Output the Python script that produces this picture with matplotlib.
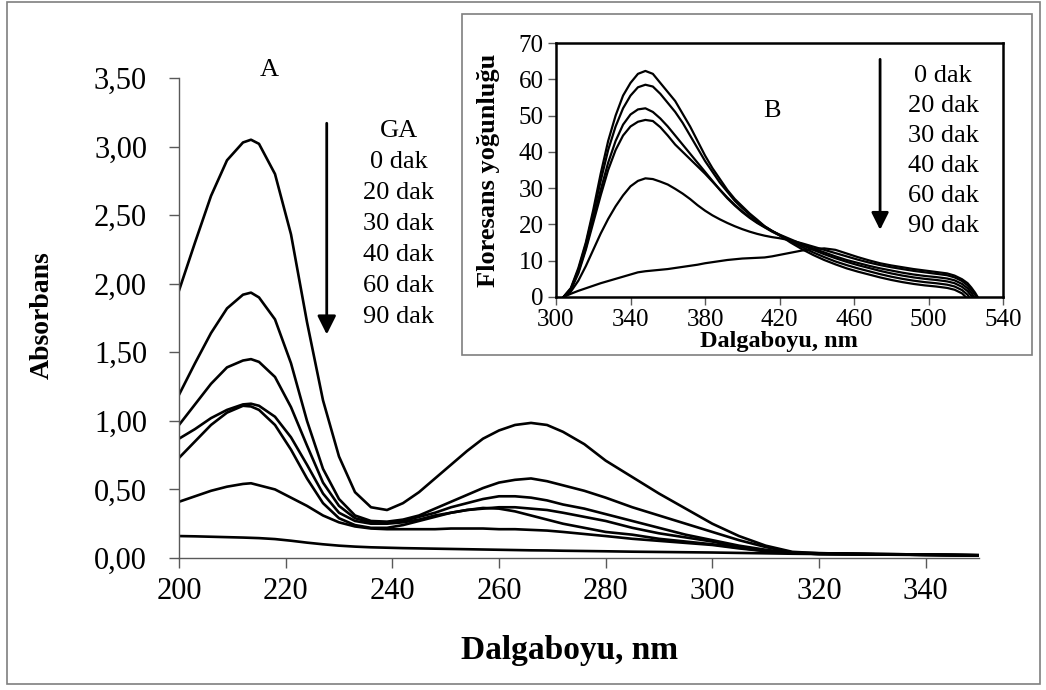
import matplotlib
matplotlib.use("Agg")
import matplotlib.pyplot as plt
from matplotlib.patches import Rectangle

plt.rcParams['font.family'] = ['Liberation Serif', 'DejaVu Serif']

# --- main chart (A): UV absorbance ---
wl = [200, 203, 206, 209, 212, 213.5, 215, 218, 221, 224, 227, 230, 233, 236, 239, 242,
      245, 248, 251, 254, 257, 260, 263, 266, 269, 272, 276, 280, 285, 290, 295,
      300, 305, 310, 315, 320, 330, 340, 350]
abs_ga = [1.95, 2.30, 2.64, 2.90, 3.03, 3.05, 3.02, 2.80, 2.36, 1.72, 1.15, 0.74, 0.48, 0.37, 0.35, 0.40,
          0.48, 0.58, 0.68, 0.78, 0.87, 0.93, 0.97, 0.985, 0.97, 0.92, 0.83, 0.71, 0.59, 0.47, 0.36,
          0.25, 0.16, 0.09, 0.045, 0.035, 0.03, 0.025, 0.02]
abs_0 = [1.19, 1.42, 1.64, 1.82, 1.92, 1.935, 1.90, 1.74, 1.42, 1.00, 0.65, 0.43, 0.31, 0.27, 0.265, 0.28,
         0.31, 0.36, 0.41, 0.46, 0.51, 0.55, 0.57, 0.58, 0.56, 0.53, 0.49, 0.44, 0.37, 0.31, 0.25,
         0.19, 0.13, 0.08, 0.04, 0.035, 0.03, 0.025, 0.02]
abs_20 = [0.97, 1.12, 1.27, 1.39, 1.44, 1.45, 1.43, 1.32, 1.10, 0.82, 0.55, 0.38, 0.29, 0.26, 0.26, 0.27,
          0.30, 0.33, 0.37, 0.40, 0.43, 0.45, 0.45, 0.44, 0.42, 0.39, 0.36, 0.32, 0.27, 0.22, 0.17,
          0.13, 0.09, 0.06, 0.035, 0.03, 0.027, 0.023, 0.02]
abs_30 = [0.87, 0.94, 1.02, 1.08, 1.12, 1.125, 1.11, 1.03, 0.88, 0.68, 0.47, 0.33, 0.27, 0.25, 0.25, 0.26,
          0.28, 0.31, 0.33, 0.35, 0.36, 0.37, 0.37, 0.36, 0.35, 0.33, 0.30, 0.27, 0.22, 0.18, 0.15,
          0.12, 0.08, 0.055, 0.035, 0.03, 0.027, 0.023, 0.02]
abs_40 = [0.73, 0.85, 0.97, 1.06, 1.11, 1.105, 1.08, 0.97, 0.79, 0.58, 0.40, 0.29, 0.24, 0.22, 0.22, 0.24,
          0.27, 0.30, 0.33, 0.35, 0.365, 0.36, 0.34, 0.31, 0.28, 0.25, 0.22, 0.19, 0.17, 0.14, 0.12,
          0.10, 0.075, 0.05, 0.035, 0.03, 0.027, 0.023, 0.02]
abs_60 = [0.41, 0.45, 0.49, 0.52, 0.54, 0.545, 0.53, 0.50, 0.44, 0.38, 0.31, 0.26, 0.23, 0.215, 0.21, 0.21,
          0.21, 0.21, 0.215, 0.215, 0.215, 0.21, 0.21, 0.205, 0.20, 0.19, 0.175, 0.16, 0.14, 0.125, 0.11,
          0.095, 0.07, 0.05, 0.035, 0.03, 0.027, 0.023, 0.02]
abs_90 = [0.16, 0.158, 0.155, 0.152, 0.149, 0.147, 0.145, 0.138, 0.126, 0.112, 0.10, 0.09, 0.083, 0.078, 0.075, 0.072,
          0.07, 0.068, 0.066, 0.064, 0.062, 0.06, 0.058, 0.056, 0.055, 0.053, 0.051, 0.049, 0.046, 0.044, 0.042,
          0.04, 0.037, 0.034, 0.031, 0.029, 0.025, 0.022, 0.018]
main_labels = ['GA', '0 dak', '20 dak', '30 dak', '40 dak', '60 dak', '90 dak']
main_xticks = [200, 220, 240, 260, 280, 300, 320, 340]
main_yticks = [0, 0.5, 1.0, 1.5, 2.0, 2.5, 3.0, 3.5]
main_yticklabels = ['0,00', '0,50', '1,00', '1,50', '2,00', '2,50', '3,00', '3,50']

# --- inset (B): fluorescence ---
fl_wl = [304, 308, 312, 316, 320, 324, 328, 332, 336, 340, 344, 348, 352, 356, 360,
         364, 368, 372, 376, 380, 384, 388, 392, 396, 400, 404, 408, 412, 416, 420,
         426, 432, 438, 444, 450, 456, 462, 468, 474, 480, 486, 492, 498, 504, 510,
         514, 518, 521, 523, 525, 527]
fl_0 = [0, 2.5, 8, 15, 24, 34, 43, 50, 55.5, 59, 61.5, 62.3, 61.5, 59, 56.5,
        54, 50.5, 47, 43, 39, 35.5, 32.5, 29.5, 27, 25, 23, 21.3, 19.5, 18.2, 17,
        15, 13.2, 11.6, 10.2, 9, 7.9, 7, 6.2, 5.4, 4.7, 4.1, 3.6, 3.2, 2.9, 2.5,
        2, 1, -0.5, -2, -4, -6]
fl_20 = [0, 2.3, 7.5, 14.5, 23, 32, 40.5, 47, 52, 55.5, 57.8, 58.5, 58, 56, 53.5,
         51, 48, 44.5, 41, 37.5, 34.5, 31.5, 29, 26.5, 24.5, 22.7, 21, 19.5, 18.2, 17.1,
         15.4, 13.8, 12.3, 11, 9.8, 8.8, 7.9, 7.1, 6.3, 5.6, 5, 4.5, 4.1, 3.8, 3.4,
         2.9, 1.9, 0.6, -1, -3, -5]
fl_30 = [0, 2.2, 7, 13.5, 21.5, 29.5, 37, 43, 47.5, 50.3, 51.7, 52, 51, 49.2, 47,
         44.5, 42, 39.5, 37, 34.5, 32, 29.5, 27.2, 25.2, 23.4, 21.8, 20.4, 19.2, 18, 17,
         15.6, 14.3, 13, 11.8, 10.7, 9.7, 8.8, 8, 7.2, 6.5, 5.9, 5.4, 5, 4.7, 4.3,
         3.8, 2.8, 1.6, 0.3, -1.5, -3.5]
fl_40 = [0, 2, 6.5, 13, 20.5, 28, 35, 40.5, 44.5, 47, 48.3, 48.8, 48.5, 46.8, 44.5,
         42, 40, 38, 36, 34, 31.8, 29.6, 27.4, 25.4, 23.6, 22, 20.6, 19.3, 18.2, 17.2,
         15.9, 14.6, 13.4, 12.3, 11.2, 10.2, 9.4, 8.6, 7.9, 7.3, 6.7, 6.2, 5.8, 5.5, 5.1,
         4.6, 3.6, 2.4, 1.2, -0.5, -2.5]
fl_60 = [0, 1.5, 4.5, 8.5, 13, 17.5, 21.5, 25, 28, 30.5, 32, 32.7, 32.5, 31.8, 31,
         29.8, 28.5, 27, 25.3, 23.8, 22.5, 21.4, 20.4, 19.5, 18.7, 18, 17.4, 16.9, 16.5, 16.2,
         15.6, 14.8, 13.9, 13, 12.1, 11.2, 10.3, 9.5, 8.8, 8.2, 7.7, 7.2, 6.8, 6.4, 6,
         5.4, 4.4, 3.2, 2, 0.6, -1.5]
fl_90 = [0, 0.9, 1.7, 2.4, 3.1, 3.8, 4.4, 5, 5.6, 6.2, 6.8, 7.1, 7.3, 7.5, 7.7,
         8, 8.3, 8.6, 8.9, 9.3, 9.6, 9.9, 10.2, 10.4, 10.6, 10.7, 10.8, 10.9, 11.2, 11.6,
         12.2, 12.8, 13.2, 13.4, 13, 12, 11, 10.1, 9.3, 8.7, 8.2, 7.7, 7.3, 6.9, 6.5,
         5.9, 4.9, 3.8, 2.6, 1.2, -0.5]
inset_labels = ['0 dak', '20 dak', '30 dak', '40 dak', '60 dak', '90 dak']
inset_xticks = [300, 340, 380, 420, 460, 500, 540]
inset_yticks = [0, 10, 20, 30, 40, 50, 60, 70]

W, H = 1046, 690
fig = plt.figure(figsize=(W / 100, H / 100), dpi=100)

# outer frame of the whole picture
fig.add_artist(Rectangle((7 / W, 6 / H), 1033 / W, 682 / H, transform=fig.transFigure,
                         fill=False, edgecolor='#7f7f7f', linewidth=1.2))

# main axes
ax = fig.add_axes([179 / W, 132 / H, 800 / W, 480 / H])
for y in [abs_ga, abs_0, abs_20, abs_30, abs_40, abs_60, abs_90]:
    ax.plot(wl, y, color='black', linewidth=1.9, solid_joinstyle='round')
ax.set_xlim(200, 350)
ax.set_ylim(0, 3.5)
ax.set_xticks(main_xticks)
ax.set_yticks(main_yticks)
ax.set_yticklabels(main_yticklabels)
for side in ['top', 'right']:
    ax.spines[side].set_visible(False)
for side in ['left', 'bottom']:
    ax.spines[side].set_color('#595959')
    ax.spines[side].set_linewidth(1.0)
ax.tick_params(direction='out', length=7, width=1, color='#595959', labelsize=22)
ax.tick_params(axis='y', pad=16)
ax.tick_params(axis='x', pad=7)

fig.text(570 / W, 1 - 650 / H, 'Dalgaboyu, nm', ha='center', va='center',
         fontsize=24, fontweight='bold')
fig.text(42 / W, 1 - 315 / H, 'Absorbans', ha='center', va='center', rotation=90,
         fontsize=20, fontweight='bold')

ax.text(217, 3.56, 'A', ha='center', va='center', fontsize=19, clip_on=False)
for i, lab in enumerate(main_labels):
    ax.text(241.2, 3.115 - i * 0.226, lab, ha='center', va='center', fontsize=19)
ax.annotate('', xy=(227.7, 1.63), xytext=(227.7, 3.17),
            arrowprops=dict(arrowstyle='-|>', color='black', lw=2, mutation_scale=28,
                            shrinkA=0, shrinkB=0))

# inset frame (white box)
fig.add_artist(Rectangle((462 / W, 335 / H), 570 / W, 341 / H, transform=fig.transFigure,
                         facecolor='white', edgecolor='#7f7f7f', linewidth=1.2, zorder=2))

axi = fig.add_axes([556 / W, 393 / H, 447 / W, 254 / H], zorder=3)
for y in [fl_0, fl_20, fl_30, fl_40, fl_60, fl_90]:
    axi.plot(fl_wl, y, color='black', linewidth=1.6, solid_joinstyle='round')
axi.set_xlim(300, 540)
axi.set_ylim(0, 70)
axi.set_xticks(inset_xticks)
axi.set_yticks(inset_yticks)
for side in axi.spines.values():
    side.set_linewidth(1.8)
    side.set_color('black')
axi.tick_params(direction='out', length=6, width=1, color='#595959', labelsize=18, pad=3)

fig.text(779 / W, 1 - 342 / H, 'Dalgaboyu, nm', ha='center', va='center',
         fontsize=17.5, fontweight='bold', zorder=4)
fig.text(489 / W, 1 - 170 / H, 'Floresans yoğunluğu', ha='center', va='center',
         rotation=90, fontsize=19, fontweight='bold', zorder=4)

axi.text(416, 51.2, 'B', ha='center', va='center', fontsize=19)
for i, lab in enumerate(inset_labels):
    axi.text(507.8, 61.0 - i * 8.26, lab, ha='center', va='center', fontsize=19)
axi.annotate('', xy=(474, 18.5), xytext=(474, 65.5),
             arrowprops=dict(arrowstyle='-|>', color='black', lw=2, mutation_scale=26,
                             shrinkA=0, shrinkB=0))

fig.savefig('out.png', dpi=100)
